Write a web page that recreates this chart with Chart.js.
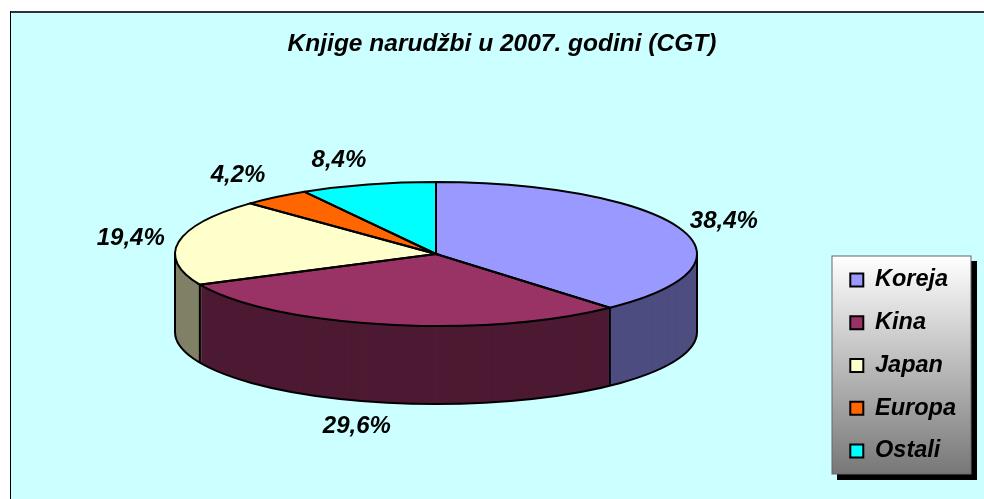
<!DOCTYPE html>
<html>
<head>
<meta charset="utf-8">
<title>Knjige narudžbi</title>
<script src="https://cdn.jsdelivr.net/npm/chart.js@4"></script>
<style>
  html, body { margin: 0; padding: 0; background: #fff; }
  canvas { display: block; }
</style>
</head>
<body>
<canvas id="orderChart" width="984" height="499"></canvas>
<script>
const titleText = 'Knjige narudžbi u 2007. godini (CGT)';
const categories = ['Koreja', 'Kina', 'Japan', 'Europa', 'Ostali'];
const shares = [38.4, 29.6, 19.4, 4.2, 8.4];
const shareLabels = ['38,4%', '29,6%', '19,4%', '4,2%', '8,4%'];
const topColors = ['#9999ff', '#993366', '#ffffcc', '#ff6600', '#00ffff'];
const wallColors = ['#4d4d80', '#4d1a33', '#808066', '#803300', '#008080'];

// the pie is squashed into an ellipse and stacked to look like the old 3D chart
const pie = { cx: 436, cy: 254, rx: 261, ry: 72, depth: 78 };
const labelNudge = [[44, -7], [-27, 102], [-48, -3], [-38, -22], [-29, -24]];
const labelFont = 'italic bold 24px "Liberation Sans"';

function squash(ctx, arc, dy) {
  ctx.translate(pie.cx, pie.cy + dy);
  ctx.scale(pie.rx / arc.outerRadius, pie.ry / arc.outerRadius);
  ctx.translate(-arc.x, -arc.y);
}

function drawArcFill(ctx, arc, color, dy) {
  const original = arc.options;
  arc.options = Object.assign({}, original, { backgroundColor: color, borderWidth: 0 });
  ctx.save();
  squash(ctx, arc, dy);
  arc.draw(ctx);
  ctx.restore();
  arc.options = original;
}

// point on the top ellipse for a given chart angle
function rimPoint(angle, dy) {
  return [pie.cx + pie.rx * Math.cos(angle), pie.cy + dy + pie.ry * Math.sin(angle)];
}

const pie3d = {
  id: 'pie3d',
  beforeDraw(chart) {
    const ctx = chart.ctx;
    ctx.save();
    ctx.fillStyle = '#ccffff';
    ctx.fillRect(10, 11, 974, 488);
    ctx.fillStyle = '#333333';
    ctx.fillRect(10, 11, 974, 2);
    ctx.fillStyle = '#000000';
    ctx.fillRect(10, 11, 1, 488);

    // legend panel
    ctx.fillStyle = '#000000';
    ctx.fillRect(837, 261, 140, 219);
    const grad = ctx.createLinearGradient(0, 256, 0, 474);
    grad.addColorStop(0, '#ffffff');
    grad.addColorStop(1, '#777777');
    ctx.fillStyle = grad;
    ctx.fillRect(832, 256, 139, 218);
    ctx.strokeStyle = '#666666';
    ctx.lineWidth = 1;
    ctx.strokeRect(832, 256, 139, 218);
    ctx.restore();
  },
  beforeDatasetsDraw(chart) {
    const ctx = chart.ctx;
    const arcs = chart.getDatasetMeta(0).data;

    for (let dy = pie.depth; dy > 0; dy--) {
      arcs.forEach((arc, i) => drawArcFill(ctx, arc, wallColors[i], dy));
    }
    arcs.forEach((arc, i) => drawArcFill(ctx, arc, topColors[i], 0));

    ctx.save();
    ctx.strokeStyle = '#000000';
    ctx.lineWidth = 2;

    // bottom rim, only the front half shows
    ctx.beginPath();
    ctx.ellipse(pie.cx, pie.cy + pie.depth, pie.rx, pie.ry, 0, 0, Math.PI);
    ctx.stroke();

    // outer edges of the side wall
    [0, Math.PI].forEach((a) => {
      const p = rimPoint(a, 0);
      ctx.beginPath();
      ctx.moveTo(p[0], p[1]);
      ctx.lineTo(p[0], p[1] + pie.depth);
      ctx.stroke();
    });

    arcs.forEach((arc) => {
      const a = arc.startAngle;
      const b = arc.endAngle;
      const p = rimPoint(a, 0);
      ctx.beginPath();
      ctx.moveTo(pie.cx, pie.cy);
      ctx.lineTo(p[0], p[1]);
      ctx.ellipse(pie.cx, pie.cy, pie.rx, pie.ry, 0, a, b);
      ctx.closePath();
      ctx.stroke();

      // wall seam where a slice ends on the front half
      const s = Math.sin(b);
      if (s > 0) {
        const q = rimPoint(b, 0);
        ctx.beginPath();
        ctx.moveTo(q[0], q[1]);
        ctx.lineTo(q[0], q[1] + pie.depth);
        ctx.stroke();
      }
    });

    // percent labels
    ctx.font = labelFont;
    ctx.fillStyle = '#000000';
    ctx.textAlign = 'center';
    ctx.textBaseline = 'middle';
    arcs.forEach((arc, i) => {
      const mid = (arc.startAngle + arc.endAngle) / 2;
      const p = rimPoint(mid, 0);
      ctx.fillText(shareLabels[i], p[0] + labelNudge[i][0], p[1] + labelNudge[i][1]);
    });
    ctx.restore();
    return false;
  }
};

new Chart(document.getElementById('orderChart').getContext('2d'), {
  type: 'pie',
  data: {
    labels: categories,
    datasets: [{
      data: shares,
      backgroundColor: topColors,
      borderColor: '#000000',
      borderWidth: 2
    }]
  },
  plugins: [pie3d],
  options: {
    responsive: false,
    animation: false,
    layout: { padding: { left: 38, right: 18, top: 30, bottom: 17 } },
    plugins: {
      tooltip: { enabled: false },
      title: {
        display: true,
        text: titleText,
        color: '#000000',
        font: { family: '"Liberation Sans"', size: 24.5, weight: 'bold', style: 'italic' },
        padding: { top: 0, bottom: 10 }
      },
      legend: {
        position: 'right',
        align: 'end',
        labels: {
          color: '#000000',
          font: { family: '"Liberation Sans"', size: 23.5, weight: 'bold', style: 'italic' },
          boxWidth: 13,
          boxHeight: 13,
          padding: 19.25
        }
      }
    }
  }
});
</script>
</body>
</html>
